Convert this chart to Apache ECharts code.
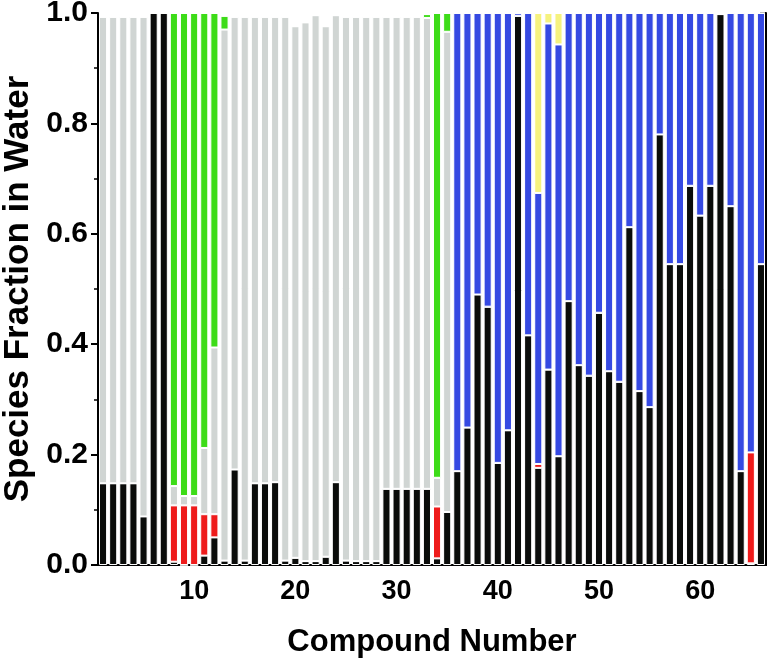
<!DOCTYPE html>
<html>
<head>
<meta charset="utf-8">
<script src="https://cdn.jsdelivr.net/npm/echarts@6/dist/echarts.min.js"></script>
<style>
  html, body { margin: 0; padding: 0; background: #fff; }
  #chart { width: 768px; height: 665px; }
</style>
</head>
<body>
<div id="chart"></div>
<script>
// compound numbers 1..66
var compounds = [];
for (var i = 1; i <= 66; i++) compounds.push(String(i));

// species fractions, bottom to top of each stack
var black = [0.148, 0.148, 0.148, 0.148, 0.088, 1.0, 1.0, 0.006, 0, 0,
  0.017, 0.05, 0.008, 0.173, 0.008, 0.148, 0.148, 0.15, 0.008, 0.013,
  0.007, 0.007, 0.015, 0.15, 0.008, 0.007, 0.007, 0.007, 0.138, 0.138,
  0.138, 0.138, 0.138, 0.012, 0.096, 0.17, 0.249, 0.49, 0.468, 0.185,
  0.244, 0.995, 0.416, 0.176, 0.354, 0.197, 0.478, 0.362, 0.343, 0.457,
  0.351, 0.332, 0.612, 0.315, 0.286, 0.78, 0.545, 0.545, 0.687, 0.633,
  0.687, 0.998, 0.65, 0.17, 0.003, 0.545];
var red = [0, 0, 0, 0, 0, 0, 0, 0.102, 0.108, 0.108,
  0.075, 0.042, 0, 0, 0, 0, 0, 0, 0, 0,
  0, 0, 0, 0, 0, 0, 0, 0, 0, 0,
  0, 0, 0, 0.094, 0, 0, 0, 0, 0, 0,
  0, 0, 0, 0.007, 0, 0, 0, 0, 0, 0,
  0, 0, 0, 0, 0, 0, 0, 0, 0, 0,
  0, 0, 0, 0, 0.201, 0];
var gray = [0.845, 0.845, 0.845, 0.845, 0.905, 0, 0, 0.035, 0.017, 0.017,
  0.12, 0.302, 0.962, 0.82, 0.985, 0.845, 0.845, 0.843, 0.985, 0.963,
  0.976, 0.989, 0.961, 0.846, 0.985, 0.986, 0.986, 0.986, 0.855, 0.855,
  0.855, 0.855, 0.853, 0.052, 0.87, 0, 0, 0, 0, 0,
  0, 0, 0, 0, 0, 0, 0, 0, 0, 0,
  0, 0, 0, 0, 0, 0, 0, 0, 0, 0,
  0, 0, 0, 0, 0, 0];
var green = [0, 0, 0, 0, 0, 0, 0, 0.857, 0.875, 0.875,
  0.788, 0.606, 0.025, 0, 0, 0, 0, 0, 0, 0,
  0, 0, 0, 0, 0, 0, 0, 0, 0, 0,
  0, 0, 0.007, 0.842, 0.034, 0, 0, 0, 0, 0,
  0, 0, 0, 0, 0, 0, 0, 0, 0, 0,
  0, 0, 0, 0, 0, 0, 0, 0, 0, 0,
  0, 0, 0, 0, 0, 0];
var blue = [0, 0, 0, 0, 0, 0, 0, 0, 0, 0,
  0, 0, 0, 0, 0, 0, 0, 0, 0, 0,
  0, 0, 0, 0, 0, 0, 0, 0, 0, 0,
  0, 0, 0, 0, 0, 0.83, 0.751, 0.51, 0.532, 0.815,
  0.756, 0.005, 0.584, 0.491, 0.627, 0.746, 0.522, 0.638, 0.657, 0.543,
  0.649, 0.668, 0.388, 0.685, 0.714, 0.22, 0.455, 0.455, 0.313, 0.367,
  0.313, 0.002, 0.35, 0.83, 0.796, 0.455];
var yellow = [0, 0, 0, 0, 0, 0, 0, 0, 0, 0,
  0, 0, 0, 0, 0, 0, 0, 0, 0, 0,
  0, 0, 0, 0, 0, 0, 0, 0, 0, 0,
  0, 0, 0, 0, 0, 0, 0, 0, 0, 0,
  0, 0, 0, 0.326, 0.019, 0.057, 0, 0, 0, 0,
  0, 0, 0, 0, 0, 0, 0, 0, 0, 0,
  0, 0, 0, 0, 0, 0];
var yTicks = [0, 0.2, 0.4, 0.6, 0.8, 1.0];

var FONT = '"Liberation Sans", Arial, sans-serif';

function stackSeries(name, data, color) {
  return {
    name: name,
    type: 'bar',
    stack: 'all',
    barCategoryGap: '20%',
    itemStyle: { color: color, borderColor: '#fff', borderWidth: 1 },
    data: data
  };
}

var chart = echarts.init(document.getElementById('chart'));
chart.setOption({
  backgroundColor: '#fff',
  animation: false,
  grid: { left: 98, right: 2, top: 13, bottom: 100, outerBoundsMode: 'none', containLabel: false },
  xAxis: [{
    type: 'category',
    data: compounds,
    boundaryGap: true,
    name: 'Compound Number',
    nameLocation: 'middle',
    nameGap: 62,
    nameTextStyle: { fontFamily: FONT, fontWeight: 'bold', fontSize: 31, color: '#000' },
    axisLine: { lineStyle: { color: '#000', width: 2 } },
    axisTick: {
      alignWithLabel: true,
      length: 7,
      lineStyle: { color: '#000', width: 2 },
      interval: function (idx) { return (idx + 1) % 5 === 0; }
    },
    axisLabel: {
      interval: function (idx) { return (idx + 1) % 10 === 0; },
      margin: 13,
      fontFamily: FONT, fontWeight: 'bold', fontSize: 27, color: '#000'
    },
    splitLine: { show: false }
  }, {
    type: 'category',
    data: compounds,
    position: 'top',
    boundaryGap: true,
    axisLine: { lineStyle: { color: '#000', width: 2 } },
    axisTick: {
      inside: true,
      alignWithLabel: true,
      length: 6,
      lineStyle: { color: '#000', width: 2 },
      interval: function (idx) { return (idx + 1) % 5 === 0; }
    },
    axisLabel: { show: false },
    splitLine: { show: false }
  }],
  yAxis: [{
    type: 'value',
    min: 0,
    max: 1,
    interval: 0.2,
    name: 'Species Fraction in Water',
    nameLocation: 'middle',
    nameGap: 60,
    nameTextStyle: { fontFamily: FONT, fontWeight: 'bold', fontSize: 35, color: '#000' },
    axisLine: { show: true, lineStyle: { color: '#000', width: 2 } },
    axisTick: { show: true, length: 7, lineStyle: { color: '#000', width: 2 } },
    minorTick: { show: true, splitNumber: 2, length: 4, lineStyle: { color: '#000', width: 1.5 } },
    axisLabel: {
      margin: 10,
      fontFamily: FONT, fontWeight: 'bold', fontSize: 30, color: '#000',
      formatter: function (v) {
        var t = yTicks.filter(function (k) { return Math.abs(k - v) < 1e-6; });
        return t.length ? t[0].toFixed(1) : '';
      }
    },
    splitLine: { show: false }
  }, {
    type: 'value',
    min: 0,
    max: 1,
    interval: 0.1,
    position: 'right',
    axisLine: { show: true, lineStyle: { color: '#000', width: 2 } },
    axisTick: { show: true, inside: true, length: 6, lineStyle: { color: '#000', width: 2 } },
    axisLabel: { show: false },
    splitLine: { show: false }
  }],
  series: [
    stackSeries('black', black, '#0a0c0a'),
    stackSeries('red', red, '#ee1b1b'),
    stackSeries('gray', gray, '#d0d5d3'),
    stackSeries('green', green, '#3ddc18'),
    stackSeries('blue', blue, '#3549e2'),
    stackSeries('yellow', yellow, '#f6f27e')
  ]
});
</script>
</body>
</html>
